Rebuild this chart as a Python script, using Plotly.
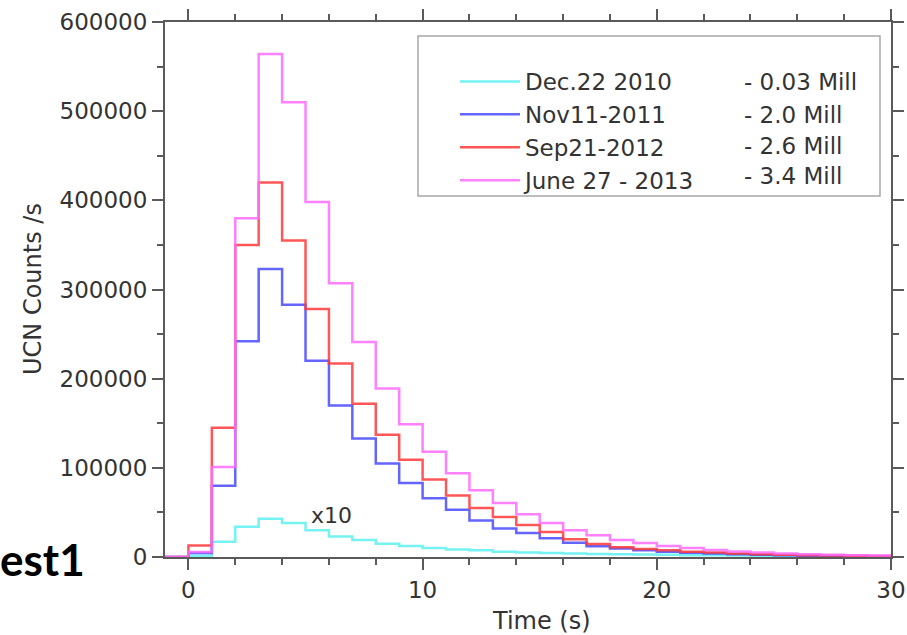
import plotly.graph_objects as go

# ---- data (bin start times in s, 1 s bins) ----
bin_starts = list(range(0, 30))
series_names = ["Dec.22 2010", "Nov11-2011", "Sep21-2012", "June 27 - 2013"]
series_totals = ["- 0.03 Mill", "- 2.0 Mill", "- 2.6 Mill", "- 3.4 Mill"]

dec2010_x10 = [1500, 17000, 34000, 43000, 38000, 30000, 23000, 19000, 15000, 12300,
               10000, 8500, 7500, 6000, 5000, 4500, 4000, 3500, 3000, 2700,
               2400, 2100, 1900, 1700, 1500, 1300, 1200, 1100, 1000, 900]
nov2011 = [4500, 80000, 242000, 323000, 283000, 220000, 170000, 133000, 105000, 83000,
           66000, 53000, 41000, 32000, 27000, 21000, 16000, 12000, 9500, 7500,
           6000, 4800, 3800, 3000, 2400, 1900, 1500, 1200, 1000, 800]
sep2012 = [13000, 145000, 350000, 420000, 355000, 278000, 217000, 172000, 137000, 109000,
           87000, 69000, 55000, 45000, 36000, 28000, 20000, 14500, 11000, 9000,
           7500, 6000, 5000, 4000, 3200, 2600, 2000, 1600, 1300, 1000]
jun2013 = [5500, 101000, 380000, 564000, 510000, 398000, 307000, 241000, 189000, 149000,
           118000, 94000, 75000, 60500, 48000, 38000, 30000, 24500, 19000, 15700,
           12300, 10000, 7800, 6200, 5000, 4000, 3200, 2600, 2100, 1700]

x_ticks = [0, 10, 20, 30]
y_ticks = [0, 100000, 200000, 300000, 400000, 500000, 600000]

colors = ["#5ef0f0", "#4a4aff", "#ff3a3a", "#ff6cff"]
all_series = [dec2010_x10, nov2011, sep2012, jun2013]

TXT = "#333333"
AX = "#5a5a5a"
FONT = "DejaVu Sans"

fig = go.Figure()
for name, vals, col in zip(series_names, all_series, colors):
    xs = [-1] + bin_starts + [bin_starts[-1] + 1]
    ys = [0] + vals + [vals[-1]]
    fig.add_trace(go.Scatter(x=xs, y=ys, mode="lines", name=name,
                             line=dict(color=col, width=2.5, shape="hv"),
                             opacity=0.85))

# plot area in pixels: left 165, right 891, top 22, bottom 557
L, R, T, B = 165, 891, 22, 557
W, H = 907, 635
def px(xp):
    return (xp - L) / (R - L)
def py(yp):
    return (B - yp) / (B - T)

axis_common = dict(showline=True, linecolor=AX, linewidth=2, mirror="ticks",
                   ticks="outside", ticklen=11, tickwidth=2, tickcolor=AX,
                   showgrid=False, zeroline=False, automargin=False,
                   tickfont=dict(family=FONT, size=23, color=TXT))

fig.update_layout(
    width=W, height=H,
    margin=dict(l=L, r=W - R, t=T, b=H - B, autoexpand=False),
    paper_bgcolor="white", plot_bgcolor="white",
    font=dict(family=FONT, color=TXT),
    xaxis=dict(range=[-1, 30], tickvals=x_ticks,
               minor=dict(dtick=2, tick0=0, ticklen=6, tickwidth=2, tickcolor=AX, ticks="outside"),
               **axis_common),
    yaxis=dict(range=[0, 600000], tickvals=y_ticks, tickformat="d",
               minor=dict(dtick=50000, tick0=0, ticklen=6, tickwidth=2, tickcolor=AX, ticks="outside"),
               **axis_common),
    showlegend=True,
    legend=dict(x=px(455), y=py(60), xanchor="left", yanchor="top",
                bgcolor="rgba(0,0,0,0)", borderwidth=0,
                font=dict(family=FONT, size=23, color=TXT),
                itemwidth=60, tracegroupgap=0),
)

# axis titles
fig.add_annotation(text="Time (s)", xref="paper", yref="paper", x=px(541), y=py(621),
                   xanchor="center", yanchor="middle", showarrow=False,
                   font=dict(family=FONT, size=24, color=TXT))
fig.add_annotation(text="UCN Counts /s", xref="paper", yref="paper", x=px(33), y=py(289),
                   xanchor="center", yanchor="middle", showarrow=False, textangle=-90,
                   font=dict(family=FONT, size=24, color=TXT))

# legend frame
fig.add_shape(type="rect", xref="paper", yref="paper",
              x0=px(418), x1=px(880), y0=py(196), y1=py(36),
              line=dict(color="#a8a8a8", width=1.5), fillcolor="rgba(0,0,0,0)")

# second legend column
row_y = [82, 115, 146, 176]
for txt, ry in zip(series_totals, row_y):
    fig.add_annotation(text=txt, xref="paper", yref="paper", x=px(742), y=py(ry),
                       xanchor="left", yanchor="middle", showarrow=False,
                       font=dict(family=FONT, size=23, color=TXT))

# x10 label for the 2010 curve
fig.add_annotation(text="x10", xref="x", yref="y", x=6.1, y=47000,
                   showarrow=False, font=dict(family=FONT, size=22, color=TXT))

# partial slide title at the left edge
fig.add_annotation(text="<b>est1</b>", xref="paper", yref="paper", x=px(-2), y=py(559),
                   xanchor="left", yanchor="middle", showarrow=False,
                   font=dict(family="Lato", size=44, color="#000000"))

fig.write_html("out.html", config={"displayModeBar": False},
               post_script="document.body.style.margin='0';")
